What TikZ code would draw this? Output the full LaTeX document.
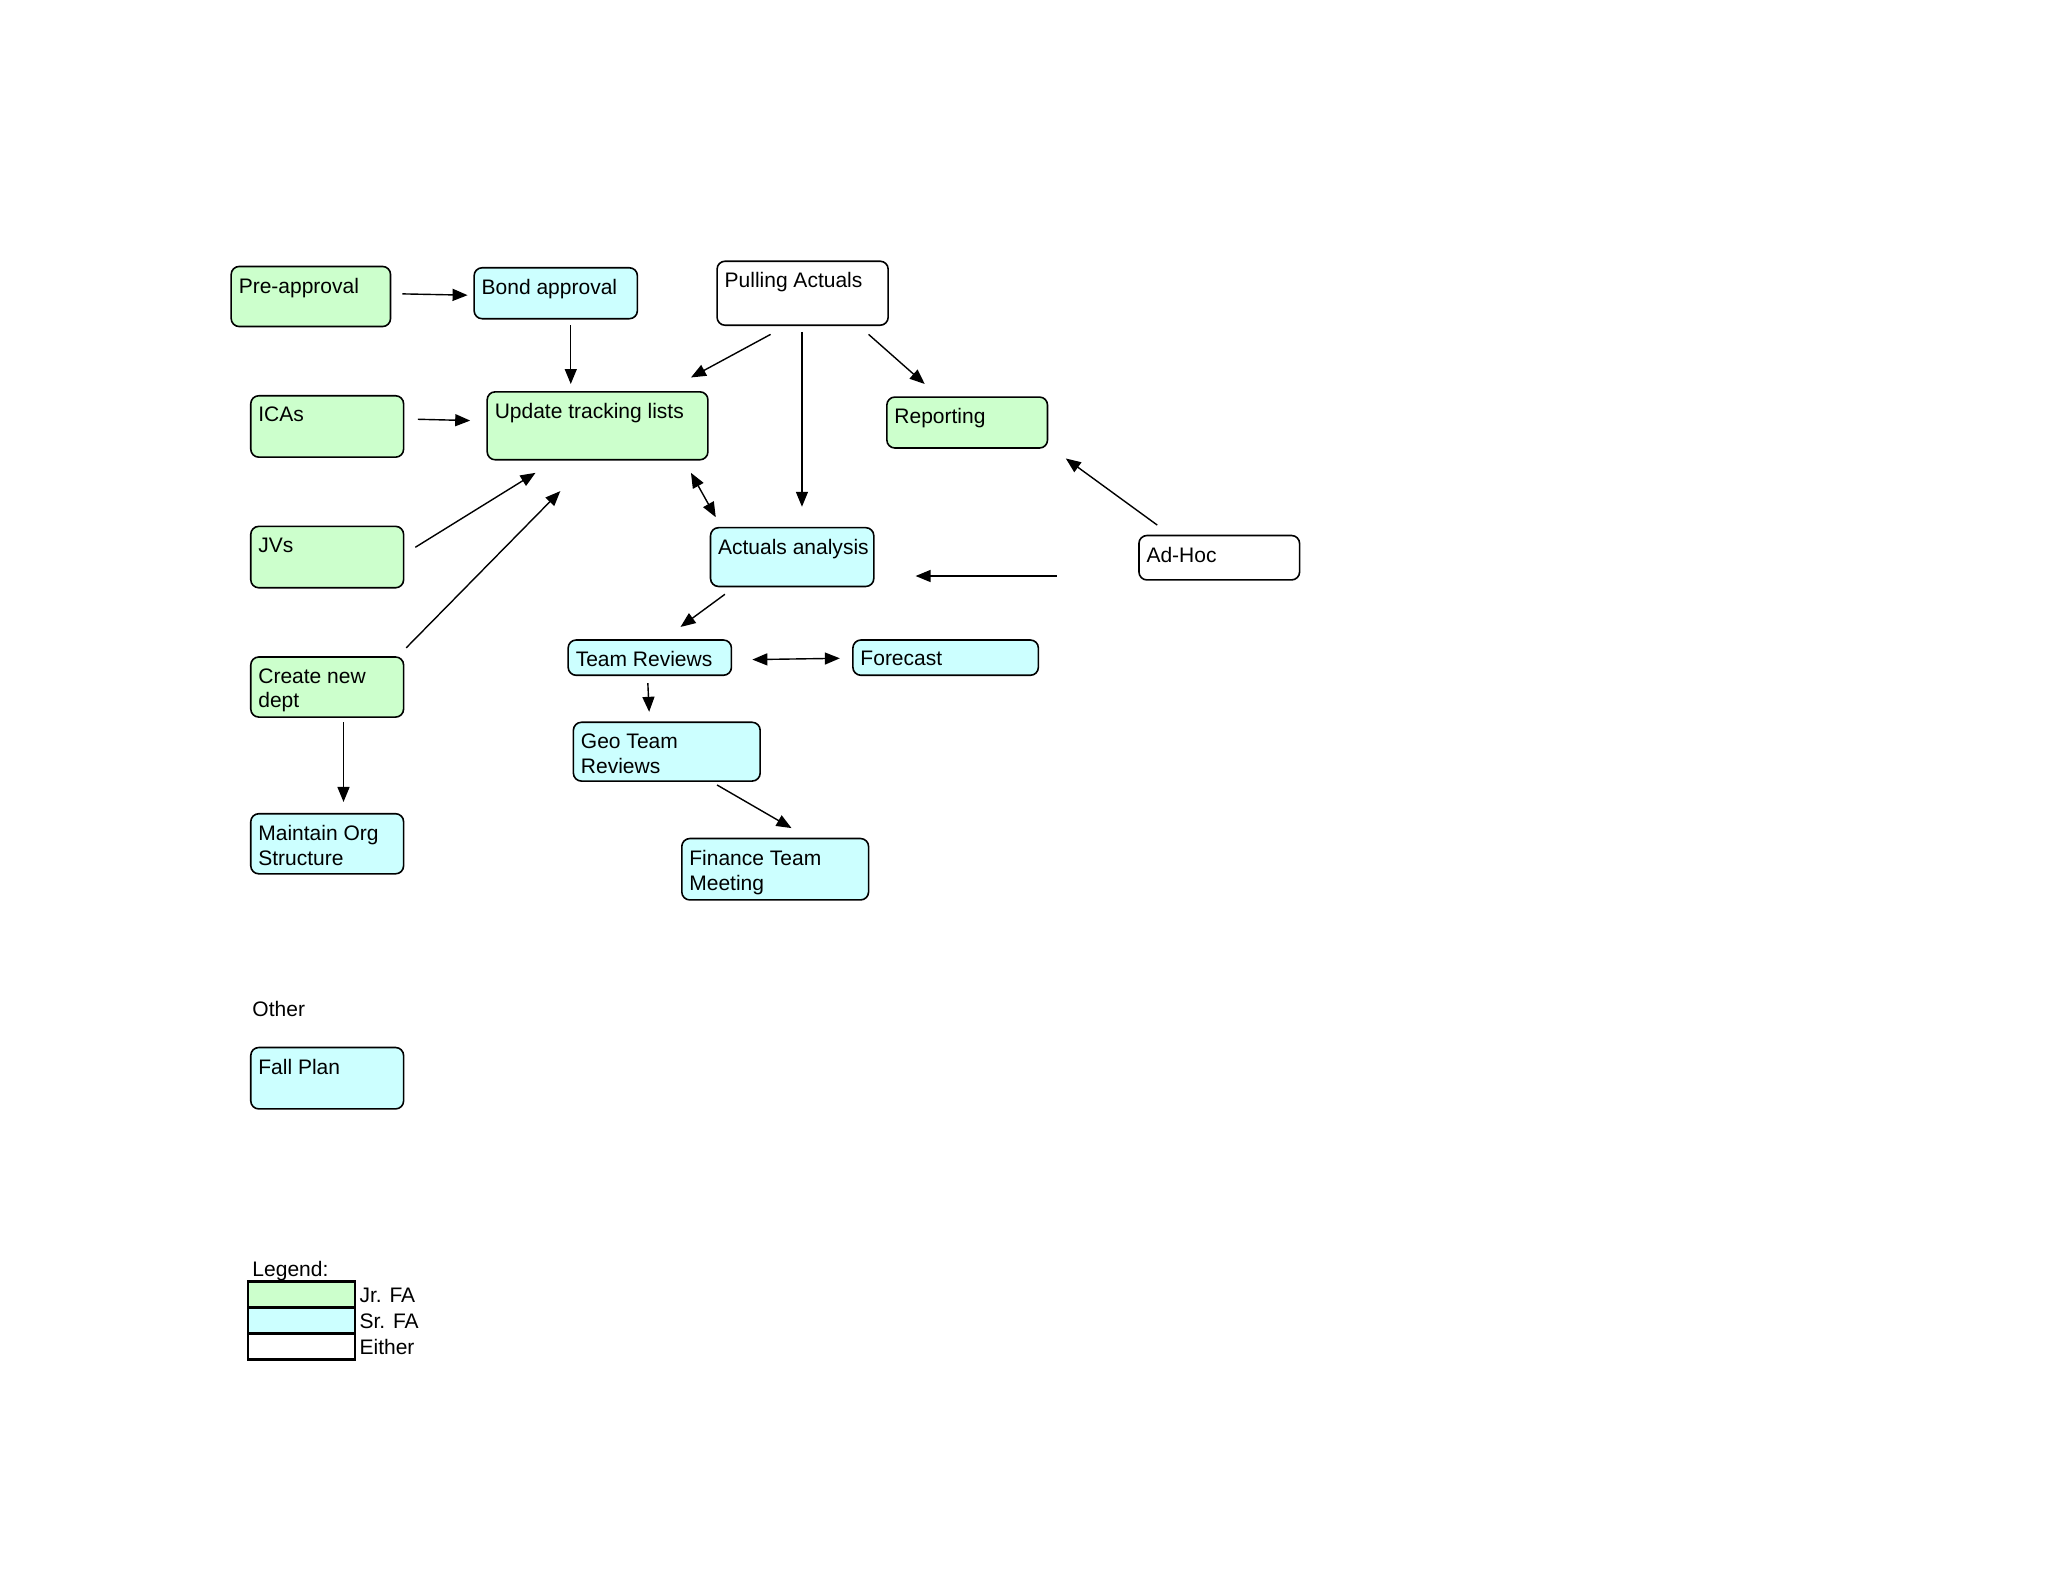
\documentclass[tikz,border=0pt]{standalone}
\usepackage{fontspec}
\setmainfont{Liberation Sans}
\usetikzlibrary{arrows.meta,fit}
\definecolor{jrgreen}{RGB}{204,255,204}
\definecolor{srcyan}{RGB}{204,255,255}
\newcommand\mkbox[7]{%
  \node[#2, fit={(#3,#4) (#5,#6)}] (#1) {};
  \node[lbl] (#1-t) at (#3+5.5,#4+8.5) {#7};
}
\begin{document}
\begin{tikzpicture}[x=0.653pt,y=-0.653pt,
  box/.style={draw=black, line width=0.8pt, rounded corners=4pt, inner sep=0pt},
  jr/.style={box, fill=jrgreen},
  sr/.style={box, fill=srcyan},
  ei/.style={box, fill=white},
  lbl/.style={anchor=north west, inner sep=0pt, font=\fontsize{10.5}{12.4}\selectfont, align=left},
  txt/.style={anchor=base west, inner sep=0pt, font=\fontsize{10.5}{12.4}\selectfont},
  leg/.style={draw=black, line width=1.2pt},
  arr/.style={line width=0.7pt, -{Triangle[length=7.5pt,width=6pt]}},
  darr/.style={line width=0.7pt, {Triangle[length=7.5pt,width=6pt]}-{Triangle[length=7.5pt,width=6pt]}}]
\useasboundingbox (0,0) rectangle (1568,1211);
\fill[white] (0,0) rectangle (1568,1211);

\mkbox{pre}{jr}{177}{204}{299}{250}{Pre-approval}
\mkbox{bond}{sr}{363}{205}{488}{244}{Bond approval}
\mkbox{pull}{ei}{549}{200}{680}{249}{Pulling Actuals}
\mkbox{ica}{jr}{192}{303}{309}{350}{ICAs}
\mkbox{upd}{jr}{373}{300}{542}{352}{Update tracking lists}
\mkbox{rep}{jr}{679}{304}{802}{343}{Reporting}
\mkbox{jv}{jr}{192}{403}{309}{450}{JVs}
\mkbox{act}{sr}{544}{404}{669}{449}{Actuals analysis}
\mkbox{adhoc}{ei}{872}{410}{995}{444}{Ad-Hoc}
\mkbox{cnd}{jr}{192}{503}{309}{549}{Create new\\dept}
\mkbox{team}{sr}{435}{490}{560}{517}{Team Reviews}
\mkbox{fore}{sr}{653}{490}{795}{517}{Forecast}
\mkbox{geo}{sr}{439}{553}{582}{598}{Geo Team\\Reviews}
\mkbox{org}{sr}{192}{623}{309}{669}{Maintain Org\\Structure}
\mkbox{fin}{sr}{522}{642}{665}{689}{Finance Team\\Meeting}
\mkbox{fall}{sr}{192}{802}{309}{849}{Fall Plan}

\node[txt] (other) at (193,778) {Other};
\node[txt] (legend) at (193,977) {Legend:};
\node[leg, fill=jrgreen, fit={(190,981) (272,1001)}, inner sep=0pt] (lj) {};
\node[leg, fill=srcyan, fit={(190,1001) (272,1021)}, inner sep=0pt] (ls) {};
\node[leg, fill=white, fit={(190,1021) (272,1041)}, inner sep=0pt] (le) {};
\node[txt] (ljt) at (275,997) {Jr. FA};
\node[txt] (lst) at (275,1017) {Sr. FA};
\node[txt] (let) at (275,1037) {Either};

% connector end points
\coordinate (a1s) at (308,225); \coordinate (a1e) at (358,226);
\coordinate (a2s) at (437,249); \coordinate (a2e) at (437,294);
\coordinate (a3s) at (590,256); \coordinate (a3e) at (529,289);
\coordinate (a4s) at (614,254); \coordinate (a4e) at (614,388);
\coordinate (a5s) at (665,256); \coordinate (a5e) at (708,294);
\coordinate (a6s) at (320,321); \coordinate (a6e) at (360,322);
\coordinate (a7s) at (318,419); \coordinate (a7e) at (410,362);
\coordinate (a8s) at (311,496); \coordinate (a8e) at (429,376);
\coordinate (a9s) at (529,362); \coordinate (a9e) at (548,396);
\coordinate (a10s) at (886,402); \coordinate (a10e) at (816,351);
\coordinate (a11s) at (809,441); \coordinate (a11e) at (701,441);
\coordinate (a12s) at (555,455); \coordinate (a12e) at (521,480);
\coordinate (a13s) at (576,505); \coordinate (a13e) at (643,504);
\coordinate (a14s) at (496,523); \coordinate (a14e) at (497,545);
\coordinate (a15s) at (549,601); \coordinate (a15e) at (606,634);
\coordinate (a16s) at (263,553); \coordinate (a16e) at (263,614);

\draw[arr] (a1s) -- (a1e);
\draw[arr] (a2s) -- (a2e);
\draw[arr] (a3s) -- (a3e);
\draw[arr] (a4s) -- (a4e);
\draw[arr] (a5s) -- (a5e);
\draw[arr] (a6s) -- (a6e);
\draw[arr] (a7s) -- (a7e);
\draw[arr] (a8s) -- (a8e);
\draw[darr] (a9s) -- (a9e);
\draw[arr] (a10s) -- (a10e);
\draw[arr] (a11s) -- (a11e);
\draw[arr] (a12s) -- (a12e);
\draw[darr] (a13s) -- (a13e);
\draw[arr] (a14s) -- (a14e);
\draw[arr] (a15s) -- (a15e);
\draw[arr] (a16s) -- (a16e);
\end{tikzpicture}
\end{document}
